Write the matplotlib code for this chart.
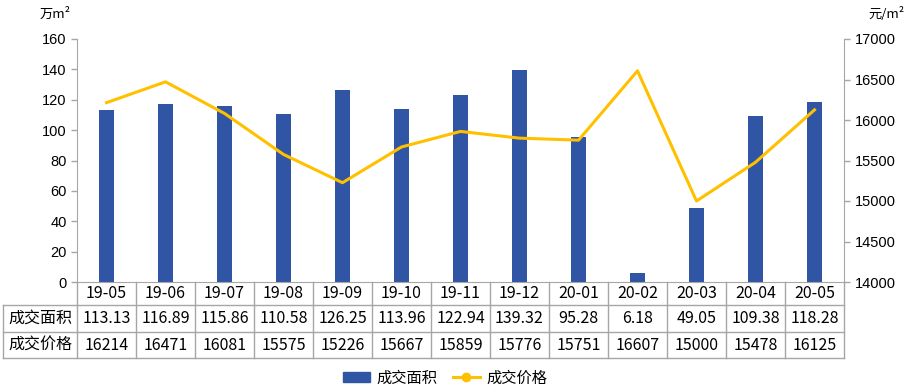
import matplotlib.pyplot as plt
from matplotlib.lines import Line2D
from matplotlib.patches import Patch

plt.rcParams['font.family'] = ['Noto Sans CJK SC', 'DejaVu Sans']

months = ['19-05', '19-06', '19-07', '19-08', '19-09', '19-10', '19-11',
          '19-12', '20-01', '20-02', '20-03', '20-04', '20-05']
area = [113.13, 116.89, 115.86, 110.58, 126.25, 113.96, 122.94,
        139.32, 95.28, 6.18, 49.05, 109.38, 118.28]
price = [16214, 16471, 16081, 15575, 15226, 15667, 15859,
         15776, 15751, 16607, 15000, 15478, 16125]
area_labels = ['113.13', '116.89', '115.86', '110.58', '126.25', '113.96', '122.94',
               '139.32', '95.28', '6.18', '49.05', '109.38', '118.28']

bar_color = '#2F55A4'
line_color = '#FFC000'
grid_color = '#A6A6A6'

W, H = 908, 392
L, R = 77, 844
fig = plt.figure(figsize=(W / 100, H / 100), dpi=100)
ax = fig.add_axes([L / W, (H - 282) / H, (R - L) / W, (282 - 39) / H])
x = list(range(len(months)))
ax.bar(x, area, width=0.26, color=bar_color, zorder=2)
ax.set_xlim(-0.5, len(months) - 0.5)
ax.set_ylim(0, 160)
ax.set_yticks(range(0, 161, 20))
ax.set_xticks([])
ax.tick_params(axis='y', labelsize=10.5, length=4, width=1, color=grid_color)
for s in ['top', 'right']:
    ax.spines[s].set_visible(False)
for s in ['left', 'bottom']:
    ax.spines[s].set_color(grid_color)

ax2 = ax.twinx()
ax2.plot(x, price, color=line_color, lw=2.2, zorder=3)
ax2.set_ylim(14000, 17000)
ax2.set_yticks(range(14000, 17001, 500))
ax2.tick_params(axis='y', labelsize=10.5, length=4, width=1, color=grid_color)
for s in ['top', 'left', 'bottom']:
    ax2.spines[s].set_visible(False)
ax2.spines['right'].set_color(grid_color)
for lab in ax.get_yticklabels() + ax2.get_yticklabels():
    lab.set_fontfamily('Liberation Sans')

fig.text(40 / W, 1 - 14 / H, '万m²', fontsize=9.5, ha='left', va='center')
fig.text(905 / W, 1 - 14 / H, '元/m²', fontsize=9.5, ha='right', va='center')

# data table drawn below the axes
def fx(px):
    return px / W

def fy(py):
    return 1 - py / H

rows = [282, 305, 332, 358]
colw = (R - L) / len(months)
tbl_kw = dict(color=grid_color, lw=1, transform=fig.transFigure)
for r in rows[1:]:
    fig.add_artist(Line2D([fx(3), fx(R)], [fy(r), fy(r)], **tbl_kw))
fig.add_artist(Line2D([fx(3), fx(3)], [fy(rows[1]), fy(rows[3])], **tbl_kw))
for i in range(len(months) + 1):
    xp = L + i * colw
    fig.add_artist(Line2D([fx(xp), fx(xp)], [fy(rows[0]), fy(rows[3])], **tbl_kw))

for i, m in enumerate(months):
    cx = fx(L + (i + 0.5) * colw)
    fig.text(cx, fy((rows[0] + rows[1]) / 2), m, ha='center', va='center', fontsize=11.5)
    fig.text(cx, fy((rows[1] + rows[2]) / 2), area_labels[i], ha='center', va='center', fontsize=11.5)
    fig.text(cx, fy((rows[2] + rows[3]) / 2), str(price[i]), ha='center', va='center', fontsize=11.5)
fig.text(fx(40), fy((rows[1] + rows[2]) / 2), '成交面积', ha='center', va='center', fontsize=11.5)
fig.text(fx(40), fy((rows[2] + rows[3]) / 2), '成交价格', ha='center', va='center', fontsize=11.5)

handles = [Patch(color=bar_color, label='成交面积'),
           Line2D([0], [0], color=line_color, lw=2.2, marker='o', markersize=6,
                  label='成交价格')]
fig.legend(handles=handles, loc='center', bbox_to_anchor=(445 / W, fy(378)), ncol=2,
           frameon=False, fontsize=11, handlelength=1.8, handleheight=0.6,
           columnspacing=1.0, handletextpad=0.4)

fig.savefig('out.png', dpi=100)
